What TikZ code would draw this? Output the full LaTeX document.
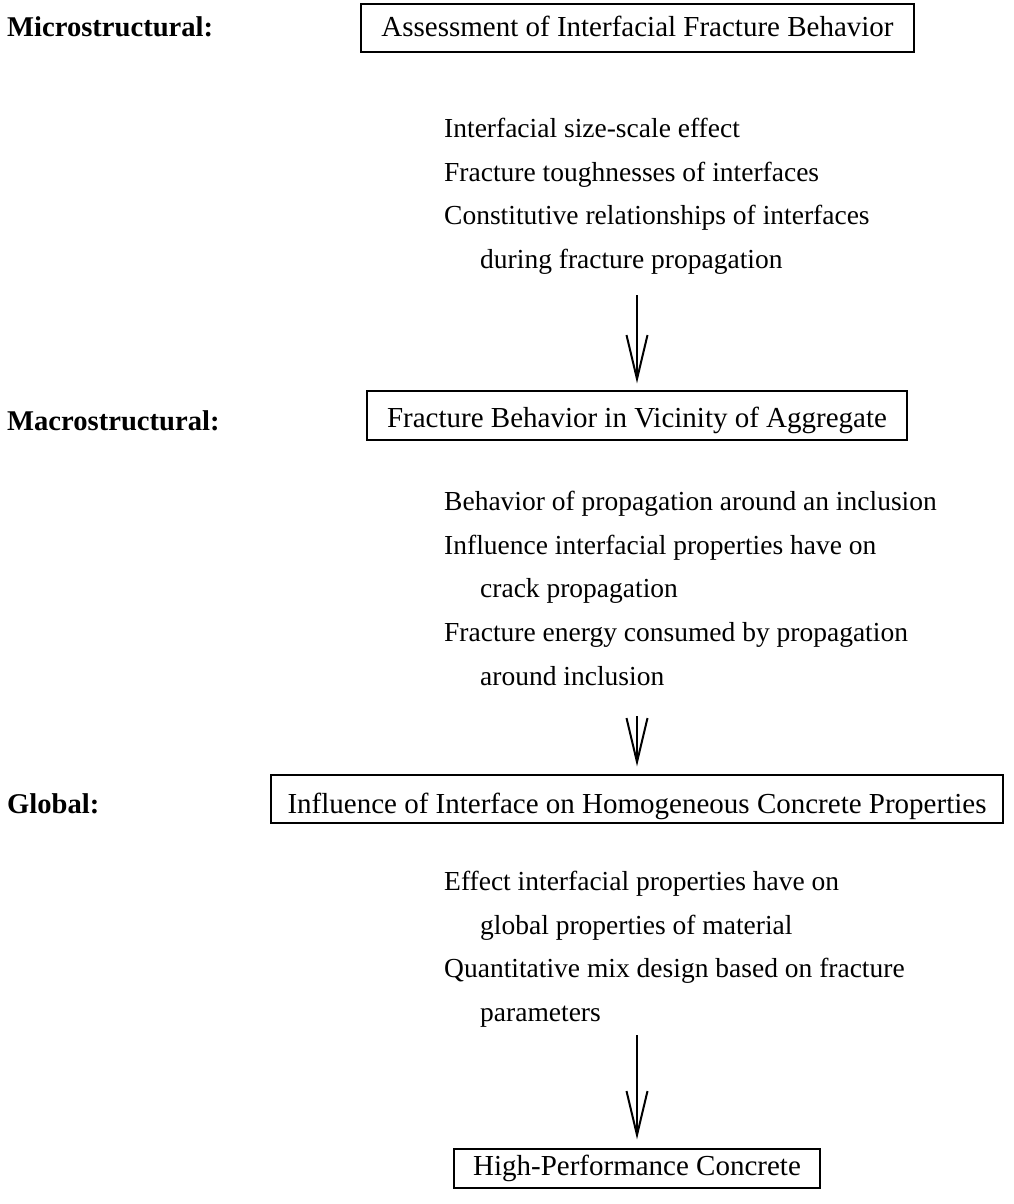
\documentclass[tikz,border=0pt]{standalone}
\usepackage{fontspec}
\setmainfont{Liberation Serif}
\usetikzlibrary{arrows.meta}
\begin{document}
\begin{tikzpicture}[x=1pt,y=-1pt,
  every node/.style={inner sep=0pt},
  boxnode/.style={draw, line width=1.3pt, font=\fontsize{29}{35}\selectfont, anchor=base},
  levellabel/.style={font=\fontsize{28.6}{34}\selectfont\bfseries, anchor=base west},
  listtext/.style={font=\fontsize{27.5}{43.7}\selectfont, anchor=north west, align=left},
  arr/.style={line width=2.2pt, -{Straight Barb[length=44pt,width=21pt,line width=2pt]}}]
\useasboundingbox (0,0) rectangle (1013,1204);
\fill[white] (0,0) rectangle (1013,1204);

% level labels
\node[levellabel] (lmicro) at (7,37) {Microstructural:};
\node[levellabel] (lmacro) at (7,430) {Macrostructural:};
\node[levellabel] (lglob) at (7,813) {Global:};

% boxes (anchor = text baseline)
\node[boxnode, minimum width=553pt, text height=33pt, text depth=15pt] (b1) at (637.5,37) {Assessment of Interfacial Fracture Behavior};
\node[boxnode, minimum width=540pt, text height=36pt, text depth=13pt] (b2) at (637,427) {Fracture Behavior in Vicinity of Aggregate};
\node[boxnode, minimum width=732pt, text height=38pt, text depth=10pt] (b3) at (637,813) {Influence of Interface on Homogeneous Concrete Properties};
\node[boxnode, minimum width=366pt, text height=26pt, text depth=13pt] (b4) at (637,1175) {High-Performance Concrete};

% lists
\node[listtext] (t1) at (444,118) {Interfacial size-scale effect\\
Fracture toughnesses of interfaces\\
Constitutive relationships of interfaces\\
\hspace*{36pt}during fracture propagation};
\node[listtext] (t2) at (444,491) {Behavior of propagation around an inclusion\\
Influence interfacial properties have on\\
\hspace*{36pt}crack propagation\\
Fracture energy consumed by propagation\\
\hspace*{36pt}around inclusion};
\node[listtext] (t3) at (444,871) {Effect interfacial properties have on\\
\hspace*{36pt}global properties of material\\
Quantitative mix design based on fracture\\
\hspace*{36pt}parameters};

% arrows
\coordinate (s1) at (637,295);
\coordinate (s2) at (637,716);
\coordinate (s3) at (637,1035);
\draw[arr, shorten >=7pt] (s1) -- (s1 |- b2.north);
\draw[arr, shorten >=8pt] (s2) -- (s2 |- b3.north);
\draw[arr, shorten >=9pt] (s3) -- (s3 |- b4.north);
\end{tikzpicture}
\end{document}
